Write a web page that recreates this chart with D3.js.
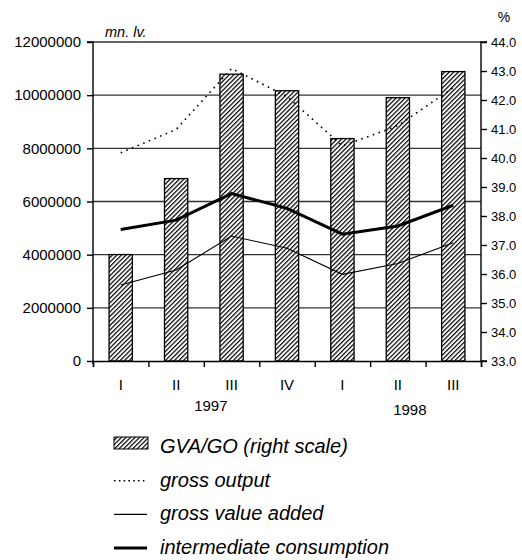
<!DOCTYPE html>
<html>
<head>
<meta charset="utf-8">
<script src="https://cdn.jsdelivr.net/npm/d3@7"></script>
<style>
  body { margin: 0; background: #fff; }
  svg text { font-family: "Liberation Sans", Arial, sans-serif; fill: #000; }
</style>
</head>
<body>
<svg id="chart" width="522" height="560"></svg>
<script>
'use strict';

// quarters, grouped by year
const quarters = ['I', 'II', 'III', 'IV', 'I', 'II', 'III'];
const years = [{ label: '1997', from: 0, to: 4 }, { label: '1998', from: 4, to: 7 }];

// mn. lv. (left scale)
const grossOutput = [7830000, 8710000, 11000000, 9950000, 8090000, 8850000, 10280000];
const grossValueAdded = [2860000, 3420000, 4700000, 4240000, 3260000, 3670000, 4450000];
const intermediateConsumption = [4950000, 5300000, 6300000, 5740000, 4770000, 5080000, 5860000];

// GVA/GO, % (right scale)
const gvaShare = [36.67, 39.29, 42.89, 42.32, 40.67, 42.08, 42.98];

const leftTicks = [0, 2000000, 4000000, 6000000, 8000000, 10000000, 12000000];
const rightTicks = [33, 34, 35, 36, 37, 38, 39, 40, 41, 42, 43, 44];

const legendItems = [
  { label: 'GVA/GO (right scale)', kind: 'bar' },
  { label: 'gross output', kind: 'dotted' },
  { label: 'gross value added', kind: 'thin' },
  { label: 'intermediate consumption', kind: 'thick' }
];

const margin = { top: 42, right: 41, bottom: 199, left: 93 };
const width = 522, height = 560;
const plotW = width - margin.left - margin.right;
const plotH = height - margin.top - margin.bottom;

const svg = d3.select('#chart');

// hatch for the bars
const defs = svg.append('defs');
defs
  .append('pattern')
  .attr('id', 'hatch')
  .attr('patternUnits', 'userSpaceOnUse')
  .attr('width', 3.2)
  .attr('height', 3.2)
  .attr('patternTransform', 'rotate(45)')
  .call(p => {
    p.append('rect').attr('width', 3.2).attr('height', 3.2).attr('fill', '#fff');
    p.append('line').attr('x1', 0.6).attr('x2', 0.6).attr('y1', 0).attr('y2', 3.2)
      .attr('stroke', '#000').attr('stroke-width', 1.2);
  });

const x = d3.scaleBand().domain(d3.range(quarters.length)).range([margin.left, margin.left + plotW]);
const xEdge = d3.scaleLinear().domain([0, quarters.length]).range([margin.left, margin.left + plotW]);
const yL = d3.scaleLinear().domain([0, 12000000]).range([margin.top + plotH, margin.top]);
const yR = d3.scaleLinear().domain([33, 44]).range([margin.top + plotH, margin.top]);

//Gridlines
svg
  .append('g')
  .selectAll('line')
  .data(leftTicks.filter(t => t > 0))
  .join('line')
  .attr('x1', margin.left)
  .attr('x2', margin.left + plotW)
  .attr('y1', d => yL(d))
  .attr('y2', d => yL(d))
  .attr('stroke', '#333')
  .attr('stroke-width', 1.4);

//Bars
const barW = x.bandwidth() * 0.42;
svg
  .append('g')
  .selectAll('rect')
  .data(gvaShare)
  .join('rect')
  .attr('x', (d, i) => x(i) + (x.bandwidth() - barW) / 2)
  .attr('y', d => yR(d))
  .attr('width', barW)
  .attr('height', d => yR(33) - yR(d))
  .attr('fill', 'url(#hatch)')
  .attr('stroke', '#000')
  .attr('stroke-width', 1.3);

//Lines
const line = d3
  .line()
  .x((d, i) => x(i) + x.bandwidth() / 2)
  .y(d => yL(d));

const series = [
  { values: grossOutput, width: 1.6, dash: '1.6,4.5' },
  { values: grossValueAdded, width: 1.1, dash: null },
  { values: intermediateConsumption, width: 3, dash: null }
];
svg
  .append('g')
  .selectAll('path')
  .data(series)
  .join('path')
  .attr('d', s => line(s.values))
  .attr('fill', 'none')
  .attr('stroke', '#000')
  .attr('stroke-width', s => s.width)
  .attr('stroke-dasharray', s => s.dash);

//Axes
const leftAxis = svg
  .append('g')
  .attr('transform', `translate(${margin.left},0)`)
  .call(d3.axisLeft(yL).tickValues(leftTicks).tickSize(6).tickPadding(6).tickFormat(d3.format('d')));
leftAxis.selectAll('text').attr('font-size', 15).style('font-family', '"Liberation Sans", Arial, sans-serif');

const rightAxis = svg
  .append('g')
  .attr('transform', `translate(${margin.left + plotW},0)`)
  .call(d3.axisRight(yR).tickValues(rightTicks).tickSize(6).tickPadding(4).tickFormat(d3.format('.1f')));
rightAxis.selectAll('text').attr('font-size', 13).style('font-family', '"Liberation Sans", Arial, sans-serif');

const bottomAxis = svg
  .append('g')
  .attr('transform', `translate(0,${margin.top + plotH})`)
  .call(d3.axisBottom(xEdge).tickValues(d3.range(quarters.length + 1)).tickSize(6).tickFormat(''));

[leftAxis, rightAxis, bottomAxis].forEach(a => {
  a.select('.domain').attr('stroke', '#000').attr('stroke-width', 1.4);
  a.selectAll('.tick line').attr('stroke', '#000').attr('stroke-width', 1.4);
});
leftAxis.select('.domain').attr('d', `M-6,${yL(12000000)}H0V${yL(0) + 3}`);
rightAxis.select('.domain').attr('d', `M6,${yR(44)}H0V${yR(33)}H6`);

//Category labels
svg
  .append('g')
  .selectAll('text')
  .data(quarters)
  .join('text')
  .attr('x', (d, i) => x(i) + x.bandwidth() / 2)
  .attr('y', margin.top + plotH + 29)
  .attr('text-anchor', 'middle')
  .attr('font-size', 15)
  .text(d => d);

svg
  .append('g')
  .selectAll('text')
  .data(years)
  .join('text')
  .attr('x', (d, i) => (xEdge(d.from) + xEdge(d.to)) / 2 + (i ? 12 : 7))
  .attr('y', (d, i) => margin.top + plotH + (i ? 54 : 50))
  .attr('text-anchor', 'middle')
  .attr('font-size', 15)
  .text(d => d.label);

//Unit labels
svg.append('text').attr('x', 105).attr('y', 37).attr('font-size', 14.5).attr('font-style', 'italic').text('mn. lv.');
svg.append('text').attr('x', 504).attr('y', 22).attr('text-anchor', 'middle').attr('font-size', 14).text('%');

//Legend
const legend = svg
  .append('g')
  .selectAll('g')
  .data(legendItems)
  .join('g')
  .attr('transform', (d, i) => `translate(114,${453 + i * 33.7})`);

legend.each(function(d) {
  const g = d3.select(this);
  if (d.kind === 'bar') {
    g.append('rect').attr('x', 0).attr('y', -16).attr('width', 34).attr('height', 12)
      .attr('fill', 'url(#hatch)').attr('stroke', '#000').attr('stroke-width', 1);
  } else {
    const s = { dotted: series[0], thin: series[1], thick: series[2] }[d.kind];
    g.append('line').attr('x1', 0).attr('x2', 33).attr('y1', -6).attr('y2', -6)
      .attr('stroke', '#000').attr('stroke-width', s.width).attr('stroke-dasharray', s.dash ? '1.6,3.2' : null);
  }
  g.append('text').attr('x', 46).attr('y', 0).attr('font-size', 20).attr('font-style', 'italic').text(d.label);
});
</script>
</body>
</html>
